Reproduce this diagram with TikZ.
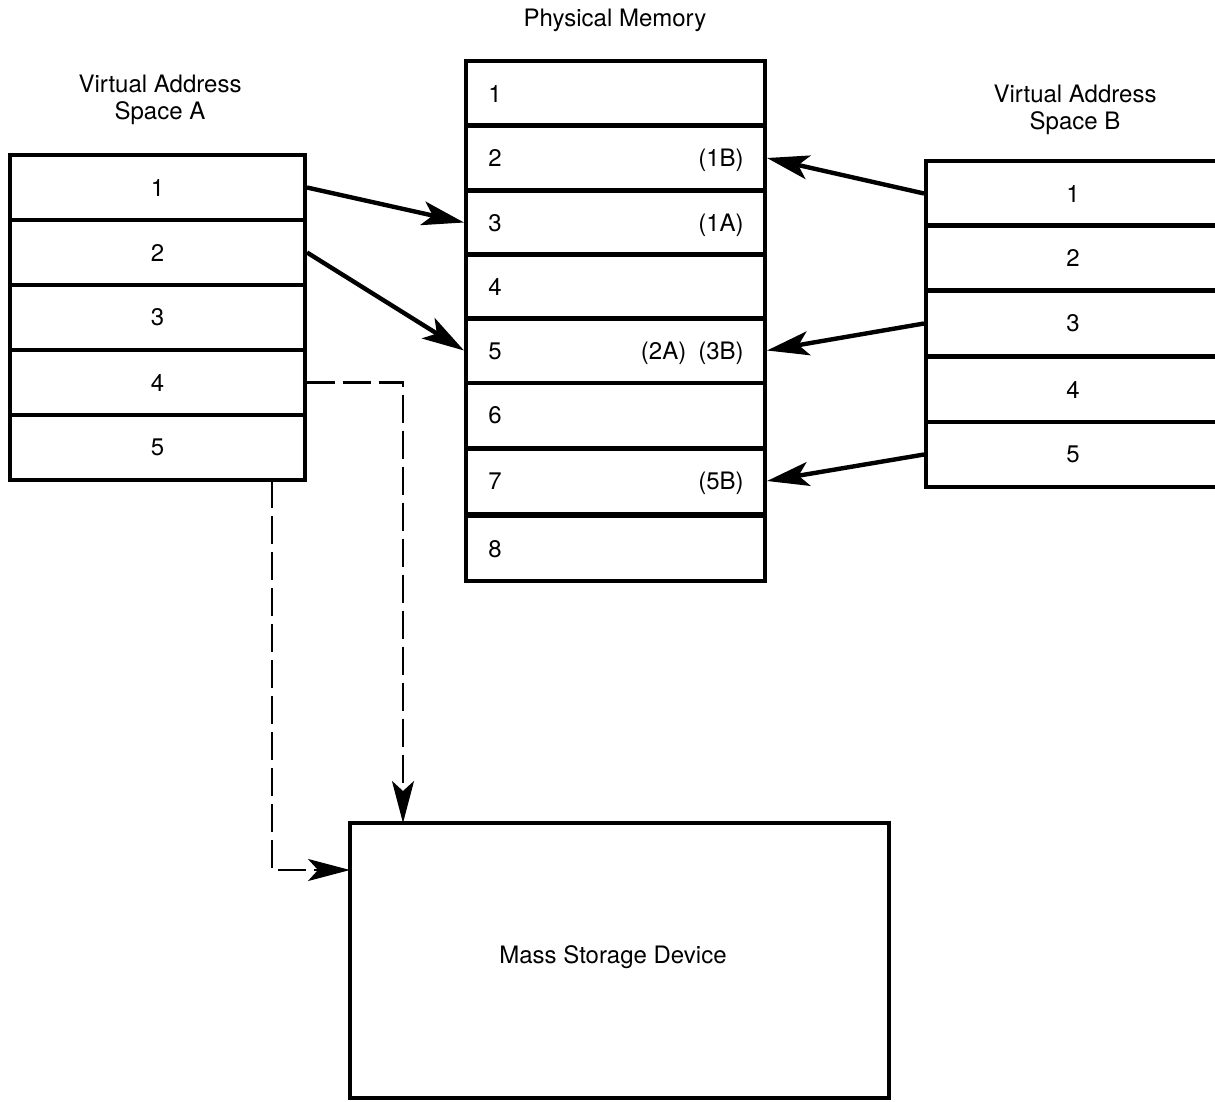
\documentclass[tikz,border=0pt]{standalone}
\usepackage{fontspec}
\setmainfont{TeX Gyre Heros}
\usetikzlibrary{arrows.meta}
\tikzset{
  every node/.style={font=\fontsize{12}{13.5}\selectfont},
  arow/.style={draw, line width=2pt, minimum width=147.5pt, minimum height=32.5pt, inner sep=0pt},
  prow/.style={draw, line width=2pt, minimum width=149.5pt, minimum height=32.5pt, inner sep=0pt},
  brow/.style={draw, line width=2pt, minimum width=147pt, minimum height=32.5pt, inner sep=0pt},
  plabel/.style={inner sep=0pt, text height=8.6pt, text depth=0pt},
  mapline/.style={line width=2.2pt, -{Stealth[length=21pt,width=12pt,inset=5pt]}},
  swapline/.style={line width=1.4pt, dash pattern=on 14pt off 4pt, -{Stealth[length=21pt,width=11pt,inset=5pt]}}
}
\begin{document}
\begin{tikzpicture}[x=0.5pt,y=-0.5pt]
\useasboundingbox (0,0) rectangle (1215,1102);
\clip (0,0) rectangle (1215,1102);
% titles
\node (ptitle) at (615,20) {Physical Memory};
\node[align=center] (atitle) at (160,100) {Virtual Address\\Space A};
\node[align=center] (btitle) at (1075,110) {Virtual Address\\Space B};
% virtual address space A
\node[arow] (a1) at (157.5,187.5) {1};
\node[arow] (a2) at (157.5,252.5) {2};
\node[arow] (a3) at (157.5,317.5) {3};
\node[arow] (a4) at (157.5,382.5) {4};
\node[arow] (a5) at (157.5,447.5) {5};
% physical memory
\node[prow] (p1) at (615.5,93.5) {};
\node[prow] (p2) at (615.5,158) {};
\node[prow] (p3) at (615.5,222.5) {};
\node[prow] (p4) at (615.5,286.5) {};
\node[prow] (p5) at (615.5,350.5) {};
\node[prow] (p6) at (615.5,415) {};
\node[prow] (p7) at (615.5,481) {};
\node[prow] (p8) at (615.5,548.5) {};
\node[plabel,anchor=west] (p1n) at ([xshift=12pt]p1.west) {1};
\node[plabel,anchor=west] (p2n) at ([xshift=12pt]p2.west) {2};
\node[plabel,anchor=west] (p3n) at ([xshift=12pt]p3.west) {3};
\node[plabel,anchor=west] (p4n) at ([xshift=12pt]p4.west) {4};
\node[plabel,anchor=west] (p5n) at ([xshift=12pt]p5.west) {5};
\node[plabel,anchor=west] (p6n) at ([xshift=12pt]p6.west) {6};
\node[plabel,anchor=west] (p7n) at ([xshift=12pt]p7.west) {7};
\node[plabel,anchor=west] (p8n) at ([xshift=12pt]p8.west) {8};
\node[plabel,anchor=east] (p2u) at ([xshift=-11.5pt]p2.east) {(1B)};
\node[plabel,anchor=east] (p3u) at ([xshift=-11.5pt]p3.east) {(1A)};
\node[plabel,anchor=east] (p5u) at ([xshift=-11.5pt]p5.east) {(2A)\enspace(3B)};
\node[plabel,anchor=east] (p7u) at ([xshift=-11.5pt]p7.east) {(5B)};
% virtual address space B
\node[brow] (b1) at (1073,193.5) {1};
\node[brow] (b2) at (1073,257.5) {2};
\node[brow] (b3) at (1073,323.5) {3};
\node[brow] (b4) at (1073,389.5) {4};
\node[brow] (b5) at (1073,454.5) {5};
% mass storage
\node[draw, line width=2pt, minimum width=269.5pt, minimum height=137.5pt] (ms) at (619.5,960.5) {};
\node (mslabel) at (613,957) {Mass Storage Device};
\coordinate (mstop) at (403,823);
\coordinate (msleft) at (350,870);
\coordinate (adrop) at (272,480);
% mappings
\draw[mapline] (a1.east) -- (p3.west);
\draw[mapline] (a2.east) -- (p5.west);
\draw[mapline] (b1.west) -- (p2.east);
\draw[mapline] (b3.west) -- (p5.east);
\draw[mapline] (b5.west) -- (p7.east);
\draw[swapline] (a4.east) -| (mstop);
\draw[swapline] (adrop) |- (msleft);
\end{tikzpicture}
\end{document}
